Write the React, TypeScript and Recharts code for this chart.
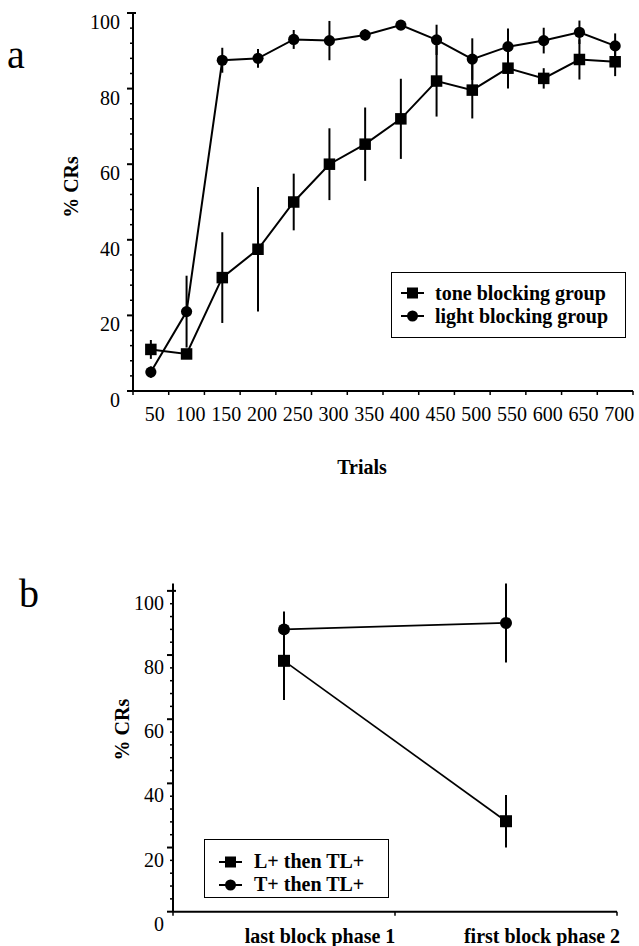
import React from 'react';
import { LineChart, Line, XAxis, YAxis, ErrorBar, Legend, Label } from 'recharts';

// panel a: acquisition over trials
const trials = [50, 100, 150, 200, 250, 300, 350, 400, 450, 500, 550, 600, 650, 700];
const trialLabels = ['50', '100', '150', '200', '250', '300', '350', '400', '450', '500', '550', '600', '650', '700'];
const toneBlocking = [11, 9.8, 30, 37.5, 50, 60, 65.3, 72, 82, 79.6, 85.4, 82.7, 87.7, 87.1];
const toneBlockingErr = [2.5, 1, 12, 16.5, 7.5, 9.5, 9.7, 10.6, 9.4, 7.5, 5.4, 2.7, 5.3, 3.8];
const lightBlocking = [5, 21, 87.5, 88, 93, 92.7, 94.2, 96.8, 92.9, 87.8, 91.1, 92.7, 94.9, 91.3];
const lightBlockingErr = [1.5, 9.5, 3.3, 2.5, 2.5, 5.2, 1.5, 1, 4, 5.5, 4.8, 3.4, 3.1, 3.3];

// panel b: phase comparison
const phaseLabels = ['last block phase 1', 'first block phase 2'];
const phases = [1, 2];
const lThenTL = [78.2, 28.2];
const lThenTLErr = [12.2, 8.2];
const tThenTL = [88, 90];
const tThenTLErr = [5.6, 12.3];

const yTicks = [0, 4, 8, 12, 16, 20, 24, 28, 32, 36, 40, 44, 48, 52, 56, 60, 64, 68, 72, 76, 80, 84, 88, 92, 96, 100];

const FONT = '"Liberation Serif", "Times New Roman", serif';
const A_PLOT_W = 500;
const B_PLOT_W = 444;

const trialData = trials.map((t, i) => ({
  trial: t,
  tone: toneBlocking[i],
  toneErr: toneBlockingErr[i],
  light: lightBlocking[i],
  lightErr: lightBlockingErr[i],
}));

const phaseData = phases.map((p, i) => ({
  phase: p,
  lt: lThenTL[i],
  ltErr: lThenTLErr[i],
  tt: tThenTL[i],
  ttErr: tThenTLErr[i],
}));

const squareDot = (size: number) => (props: any) => {
  const { cx, cy, index } = props;
  if (cx == null || cy == null) return <g key={`sq-${index}`} />;
  return <rect key={`sq-${index}`} x={cx - size / 2} y={cy - size / 2} width={size} height={size} fill="#000" />;
};

const circleDot = (r: number) => (props: any) => {
  const { cx, cy, index } = props;
  if (cx == null || cy == null) return <g key={`ci-${index}`} />;
  return <circle key={`ci-${index}`} cx={cx} cy={cy} r={r} fill="#000" />;
};

function YTick(props: any) {
  const { x, y, payload, labelDx, labelDy } = props;
  const v = payload.value;
  const major = v % 20 === 0;
  return (
    <g>
      <line x1={x - (major ? 6 : 3)} x2={v === 100 ? x + 3 : x} y1={y} y2={y} stroke="#000" strokeWidth={major ? 2 : 1.5} />
      {major && (
        <text x={x - labelDx} y={y + labelDy} textAnchor="end" fontSize={20} fontFamily={FONT} fill="#000">
          {v}
        </text>
      )}
    </g>
  );
}

function BandTick(props: any) {
  const { x, y, payload, index, band, labels, values, dx, dy, last } = props;
  const half = band / 2;
  const label = labels[values.indexOf(payload.value)];
  return (
    <g>
      <line x1={x - half} x2={x - half} y1={y} y2={y + 4} stroke="#000" strokeWidth={1.5} />
      {index === last && <line x1={x + half} x2={x + half} y1={y} y2={y + 4} stroke="#000" strokeWidth={1.5} />}
      <text x={x + dx} y={y + dy} textAnchor="middle" fontSize={20} fontFamily={FONT} fill="#000" fontWeight={props.bold ? 'bold' : 'normal'}>
        {label}
      </text>
    </g>
  );
}

function LegendBox({ payload, shapes, order, box }: any) {
  const items = [...(payload || [])].sort((a: any, b: any) => order.indexOf(a.dataKey) - order.indexOf(b.dataKey));
  return (
    <div
      style={{
        boxSizing: 'border-box',
        width: box.width,
        height: box.height,
        border: '1.5px solid #000',
        background: '#fff',
        paddingTop: box.padTop,
        paddingLeft: box.padLeft,
      }}
    >
      {items.map((p: any) => (
        <div key={p.value} style={{ display: 'flex', alignItems: 'center', height: 23 }}>
          <svg width={23} height={14} style={{ flex: 'none' }}>
            <line x1={0} x2={23} y1={7} y2={7} stroke="#000" strokeWidth={2} />
            {shapes[p.dataKey] === 'square' ? (
              <rect x={6} y={1.5} width={11} height={11} fill="#000" />
            ) : (
              <circle cx={11.5} cy={7} r={5.5} fill="#000" />
            )}
          </svg>
          <span
            style={{
              marginLeft: box.textGap,
              fontFamily: FONT,
              fontWeight: 'bold',
              fontSize: 20,
              lineHeight: '23px',
              whiteSpace: 'nowrap',
              color: '#000',
            }}
          >
            {p.value}
          </span>
        </div>
      ))}
    </div>
  );
}

const yTitle = (dxFromAxis: number, dyFromCenter: number) => (props: any) => {
  const vb = props.viewBox || {};
  const cx = vb.x + vb.width - dxFromAxis;
  const cy = vb.y + vb.height / 2 + dyFromCenter;
  return (
    <text
      x={cx}
      y={cy}
      transform={`rotate(-90, ${cx}, ${cy})`}
      textAnchor="middle"
      dominantBaseline="central"
      fontSize={20}
      fontWeight="bold"
      fontFamily={FONT}
      fill="#000"
    >
      % CRs
    </text>
  );
};

export default function App() {
  return (
    <div style={{ position: 'absolute', left: 0, top: 0, width: 639, height: 946, background: '#fff', fontFamily: FONT }}>
      <div style={{ position: 'absolute', left: 0, top: 0 }}>
        <LineChart width={639} height={480} data={trialData} margin={{ top: 13, right: 6, bottom: 59, left: 73 }}>
          <XAxis
            dataKey="trial"
            type="number"
            domain={[25, 725]}
            ticks={trials}
            interval={0}
            height={30}
            tickSize={0}
            tickMargin={0}
            axisLine={{ stroke: '#000', strokeWidth: 2 }}
            tick={<BandTick band={A_PLOT_W / trials.length} labels={trialLabels} values={trials} dx={4} dy={30} last={trials.length - 1} />}
          >
            <Label
              content={(p: any) => {
                const vb = p.viewBox || {};
                return (
                  <text x={vb.x + 229} y={vb.y + 83} textAnchor="middle" fontSize={20} fontWeight="bold" fontFamily={FONT} fill="#000">
                    Trials
                  </text>
                );
              }}
            />
          </XAxis>
          <YAxis
            type="number"
            domain={[0, 100]}
            ticks={yTicks}
            interval={0}
            width={60}
            tickSize={0}
            tickMargin={0}
            axisLine={{ stroke: '#000', strokeWidth: 2 }}
            tick={<YTick labelDx={13} labelDy={16} />}
          >
            <Label content={yTitle(62, -15)} />
          </YAxis>
          <Legend
            verticalAlign="middle"
            align="center"
            layout="horizontal"
            wrapperStyle={{ left: 391, top: 272, width: 235, height: 66 }}
            content={(p: any) => (
              <LegendBox
                payload={p.payload}
                shapes={{ tone: 'square', light: 'circle' }}
                order={['tone', 'light']}
                box={{ width: 235, height: 66, padTop: 8.5, padLeft: 9, textGap: 11 }}
              />
            )}
          />
          <Line
            dataKey="tone"
            name="tone blocking group"
            stroke="#000"
            strokeWidth={2}
            dot={squareDot(11.5)}
            activeDot={false}
            isAnimationActive={false}
          >
            <ErrorBar dataKey="toneErr" direction="y" width={0} stroke="#000" strokeWidth={2} />
          </Line>
          <Line
            dataKey="light"
            name="light blocking group"
            stroke="#000"
            strokeWidth={2}
            dot={circleDot(5.6)}
            activeDot={false}
            isAnimationActive={false}
          >
            <ErrorBar dataKey="lightErr" direction="y" width={0} stroke="#000" strokeWidth={2} />
          </Line>
        </LineChart>
      </div>

      <div style={{ position: 'absolute', left: 0, top: 480 }}>
        <LineChart width={639} height={466} data={phaseData} margin={{ top: 103.5, right: 22, bottom: 4.3, left: 113 }}>
          <XAxis
            dataKey="phase"
            type="number"
            domain={[0.5, 2.5]}
            ticks={phases}
            interval={0}
            height={30}
            tickSize={0}
            tickMargin={0}
            axisLine={{ stroke: '#000', strokeWidth: 2 }}
            tick={<BandTick band={B_PLOT_W / phases.length} labels={phaseLabels} values={phases} dx={36} dy={31} last={phases.length - 1} bold />}
          />
          <YAxis
            type="number"
            domain={[0, 100]}
            ticks={yTicks}
            interval={0}
            width={60}
            tickSize={0}
            tickMargin={0}
            axisLine={{ stroke: '#000', strokeWidth: 2 }}
            tick={<YTick labelDx={9} labelDy={19} />}
          >
            <Label content={yTitle(51, -18)} />
          </YAxis>
          <Legend
            verticalAlign="middle"
            align="center"
            layout="horizontal"
            wrapperStyle={{ left: 204, top: 359, width: 185, height: 59 }}
            content={(p: any) => (
              <LegendBox
                payload={p.payload}
                shapes={{ lt: 'square', tt: 'circle' }}
                order={['lt', 'tt']}
                box={{ width: 185, height: 59, padTop: 10, padLeft: 14, textGap: 12 }}
              />
            )}
          />
          <Line
            dataKey="lt"
            name="L+ then TL+"
            stroke="#000"
            strokeWidth={1.7}
            dot={squareDot(12)}
            activeDot={false}
            isAnimationActive={false}
          >
            <ErrorBar dataKey="ltErr" direction="y" width={0} stroke="#000" strokeWidth={2} />
          </Line>
          <Line
            dataKey="tt"
            name="T+ then TL+"
            stroke="#000"
            strokeWidth={1.7}
            dot={circleDot(6)}
            activeDot={false}
            isAnimationActive={false}
          >
            <ErrorBar dataKey="ttErr" direction="y" width={0} stroke="#000" strokeWidth={2} />
          </Line>
        </LineChart>
      </div>

      <svg width={639} height={946} style={{ position: 'absolute', left: 0, top: 0, pointerEvents: 'none' }}>
        <text x={7} y={68} fontSize={40} fontFamily={FONT} fill="#000">a</text>
        <text x={19} y={607} fontSize={40} fontFamily={FONT} fill="#000">b</text>
      </svg>
    </div>
  );
}
